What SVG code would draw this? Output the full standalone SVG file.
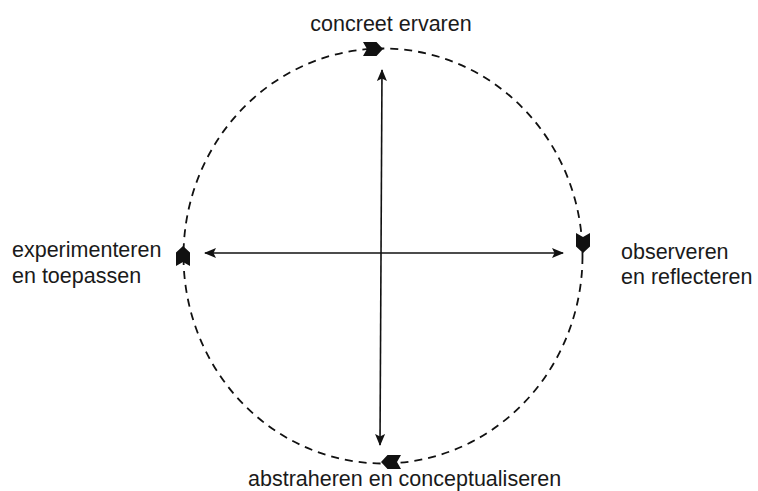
<svg xmlns="http://www.w3.org/2000/svg" xmlns:xlink="http://www.w3.org/1999/xlink" width="758" height="491" viewBox="0 0 758 491">
<style>
text{font-family:"Liberation Sans",Arial,sans-serif;font-size:21.5px;fill:#1a1a1a}
.cycle{fill:none;stroke:#111;stroke-width:1.8;stroke-dasharray:8 6}
.axis{fill:none;stroke:#111;stroke-width:1.6}
.fletch{fill:#111}
</style>
<defs>
<marker id="ah" viewBox="0 0 12 10" refX="11" refY="5" markerWidth="12" markerHeight="10" markerUnits="userSpaceOnUse" orient="auto-start-reverse">
<path d="M0,0 L12,5 L0,10 L2.5,5 Z" fill="#111"/>
</marker>
<path id="fl" class="fletch" d="M-10,-7 L3.5,-7 L10,0 L3.5,7 L-10,7 L-6,0 Z"/>
</defs>
<rect width="758" height="491" fill="#fff"/>
<g id="cycle">
<ellipse class="cycle" cx="383" cy="256" rx="199.5" ry="207.5"/>
</g>
<g id="connectors">
<line class="axis" x1="382" y1="70" x2="380" y2="445" marker-start="url(#ah)" marker-end="url(#ah)"/>
<line class="axis" x1="205" y1="253" x2="563" y2="253" marker-start="url(#ah)" marker-end="url(#ah)"/>
</g>
<g id="node-top">
<use xlink:href="#fl" href="#fl" transform="translate(373,49)"/>
<text x="391" y="31" text-anchor="middle">concreet ervaren</text>
</g>
<g id="node-right">
<use xlink:href="#fl" href="#fl" transform="translate(583,243) rotate(90)"/>
<text x="621" y="259">observeren</text>
<text x="621" y="284">en reflecteren</text>
</g>
<g id="node-bottom">
<use xlink:href="#fl" href="#fl" transform="translate(391,462) rotate(180)"/>
<text x="248" y="485.5">abstraheren en conceptualiseren</text>
</g>
<g id="node-left">
<use xlink:href="#fl" href="#fl" transform="translate(183,256) rotate(-90)"/>
<text x="12" y="257">experimenteren</text>
<text x="12" y="283">en toepassen</text>
</g>
</svg>
